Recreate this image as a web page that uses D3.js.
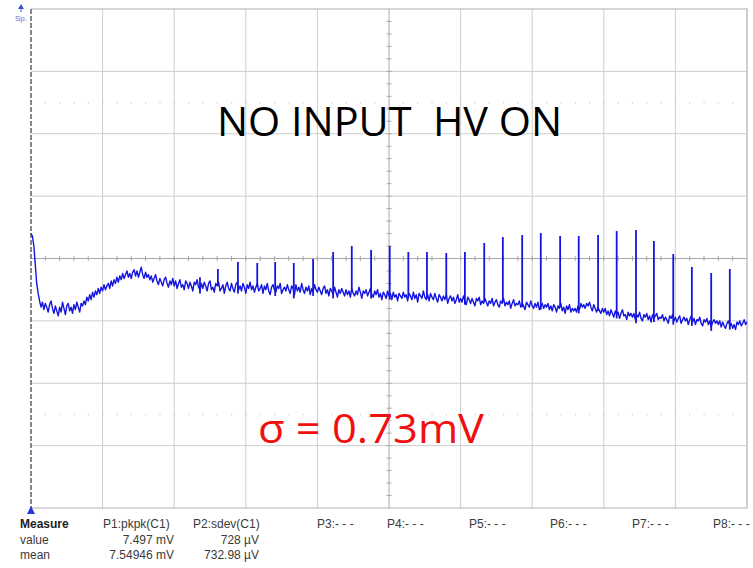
<!DOCTYPE html>
<html>
<head>
<meta charset="utf-8">
<script src="https://cdn.jsdelivr.net/npm/d3@7"></script>
<style>
  body { margin: 0; background: #fff; }
  svg { display: block; }
</style>
</head>
<body>
<div id="scope"></div>
<script>
// Channel 1 trace in mV, one sample every 0.02 div
const traceStep = 0.02;
const trace = [
    2.0, 1.8, 1.0, -0.5, -2.0, -2.8, -3.4, -3.9, -3.5, -4.1, -3.6, -3.9, -4.3, -3.7, -3.4, -4.0, -4.4, -3.8, -4.2, -4.6,
    -3.9, -4.3, -3.5, -4.0, -4.5, -3.8, -3.6, -4.2, -3.9, -4.4, -3.7, -4.1, -3.5, -3.9, -4.3, -3.6, -3.8, -3.4, -3.7, -3.1,
    -3.4, -2.9, -3.3, -2.7, -3.1, -2.6, -2.9, -2.4, -2.8, -2.3, -2.6, -2.1, -2.5, -2.2, -2.0, -2.4, -1.8, -2.2, -1.7, -2.0,
    -1.5, -1.9, -1.4, -1.7, -1.2, -1.6, -1.3, -1.0, -1.5, -1.2, -1.6, -1.1, -0.9, -1.4, -1.0, -1.5, -1.1, -0.7, -1.3, -1.6,
    -1.1, -1.5, -1.3, -1.7, -1.4, -1.9, -1.6, -1.3, -1.8, -2.1, -1.6, -1.9, -2.2, -1.7, -1.5, -2.0, -2.3, -1.8, -2.1, -1.6,
    -2.2, -1.8, -2.4, -2.0, -1.7, -2.3, -2.1, -2.5, -1.8, -2.0, -2.4, -1.9, -2.2, -2.6, -1.9, -2.1, -1.7, -2.3, -2.5, -2.0,
    -2.4, -1.9, -2.2, -2.6, -2.0, -1.8, -2.5, -2.3, -2.7, -2.0, -2.2, -1.9, -2.6, -2.4, -2.1, -2.8, -2.2, -1.9, -2.4, -2.6,
    -2.0, -2.4, -2.7, -2.1, -1.9, -2.5, -2.2, -2.6, -2.0, -2.3, -2.8, -2.1, -2.4, -1.9, -2.5, -2.2, -2.7, -2.3, -2.0, -2.6,
    -2.4, -2.1, -2.8, -2.2, -2.5, -2.0, -2.6, -2.9, -2.3, -2.1, -2.5, -2.7, -2.2, -2.4, -2.0, -2.8, -2.5, -2.3, -2.6, -2.1,
    -2.5, -2.8, -2.2, -2.4, -2.9, -2.1, -2.6, -2.3, -2.7, -2.0, -2.5, -2.8, -2.3, -2.6, -2.2, -2.9, -2.4, -2.7, -2.1, -2.5,
    -2.7, -2.3, -2.6, -2.9, -2.4, -2.2, -2.8, -2.5, -3.0, -2.4, -2.6, -2.9, -2.3, -2.7, -3.1, -2.5, -2.8, -2.4, -2.7, -3.0,
    -2.5, -2.9, -2.6, -3.1, -2.4, -2.8, -3.0, -2.6, -2.9, -2.3, -2.7, -3.2, -2.6, -2.8, -2.5, -3.0, -2.7, -2.4, -2.9, -3.1,
    -2.6, -2.9, -2.5, -3.1, -2.8, -3.3, -2.7, -2.9, -3.2, -2.6, -3.0, -2.8, -3.3, -2.7, -3.1, -2.9, -3.4, -2.8, -3.0, -3.2,
    -2.7, -3.1, -2.9, -3.4, -2.8, -3.0, -3.3, -2.7, -3.2, -2.9, -3.5, -2.8, -3.0, -3.2, -2.6, -3.1, -3.3, -2.9, -3.4, -2.8,
    -3.1, -3.3, -2.8, -3.2, -3.5, -2.9, -3.1, -3.4, -3.0, -3.3, -2.9, -3.6, -3.2, -3.0, -3.4, -3.1, -3.6, -3.3, -2.9, -3.5,
    -3.2, -3.5, -3.0, -3.4, -3.7, -3.1, -3.3, -3.6, -3.2, -3.5, -3.8, -3.2, -3.4, -3.1, -3.7, -3.4, -3.6, -3.2, -3.5, -3.8,
    -3.4, -3.6, -3.2, -3.8, -3.5, -3.3, -3.7, -3.9, -3.4, -3.6, -3.2, -3.8, -3.5, -3.7, -3.4, -4.0, -3.6, -3.3, -3.8, -3.6,
    -3.7, -3.4, -3.9, -3.6, -3.8, -4.1, -3.5, -3.7, -3.9, -3.4, -3.8, -4.0, -3.6, -3.9, -3.5, -4.1, -3.8, -3.6, -4.0, -3.7,
    -3.9, -3.6, -4.1, -3.8, -4.2, -3.7, -3.9, -4.3, -3.8, -4.0, -3.6, -4.2, -3.9, -4.4, -3.8, -4.1, -3.7, -4.3, -4.0, -4.2,
    -4.0, -4.3, -3.8, -4.1, -3.6, -3.9, -3.7, -4.0, -3.6, -3.8, -3.5, -3.9, -4.2, -3.7, -4.0, -4.3, -3.9, -4.2, -4.4, -4.0,
    -4.3, -4.0, -4.5, -4.2, -4.6, -4.1, -4.4, -4.7, -4.2, -4.5, -4.3, -4.8, -4.4, -4.1, -4.6, -4.5, -4.9, -4.3, -4.6, -4.4,
    -4.7, -4.4, -4.9, -4.5, -4.7, -4.3, -4.8, -5.0, -4.5, -4.7, -4.4, -4.9, -4.6, -5.1, -4.5, -4.8, -4.6, -4.4, -4.9, -4.7,
    -4.8, -4.5, -5.0, -4.7, -4.9, -5.2, -4.6, -4.8, -4.5, -5.0, -4.7, -5.1, -4.8, -4.6, -5.2, -4.9, -4.7, -5.0, -4.8, -5.3,
    -4.9, -4.6, -5.1, -4.8, -5.3, -4.9, -5.0, -4.7, -5.2, -5.4, -4.9, -5.1, -4.8, -5.3, -5.0, -5.5, -5.1, -4.9, -5.2, -5.0,
    -5.3, -5.0, -5.5, -5.1, -5.4, -5.6, -5.2, -5.0, -5.4, -5.2, -5.6, -5.3, -5.7, -5.1, -5.3, -5.0, -5.4, -5.2, -4.9, -5.3,
    -5.1
];

// interference spikes: position (div) and peak (mV)
const spikeTimes = [2.36, 2.61, 2.89, 3.16, 3.41, 3.67, 3.94, 4.22, 4.48, 4.75,
    5.01, 5.27, 5.53, 5.80, 6.06, 6.33, 6.59, 6.86, 7.12, 7.39,
    7.65, 7.92, 8.18, 8.45, 8.70, 8.97, 9.23, 9.50, 9.76];
const spikePeaks = [-1.5, -0.84, -0.28, -0.36, -0.28, -0.36, -0.04, 0.52, 1.00, 0.68,
    1.00, 0.52, 0.52, 0.44, 0.52, 1.24, 1.72, 1.88, 2.04, 1.80,
    1.80, 1.88, 2.20, 2.28, 1.40, 0.36, -0.68, -1.16, -0.84];

const titleText = "NO INPUT  HV ON";
const sigmaText = "σ = 0.73mV";

const measureHeads = ["P1:pkpk(C1)", "P2:sdev(C1)", "P3:- - -", "P4:- - -",
    "P5:- - -", "P6:- - -", "P7:- - -", "P8:- - -"];
const measureValues = ["7.497 mV", "728 µV"];
const measureMeans = ["7.54946 mV", "732.98 µV"];

const W = 753, H = 568;
const plot = { left: 31, right: 747, top: 9, bottom: 508 };

const svg = d3.select("#scope")
    .append("svg")
    .attr("width", W)
    .attr("height", H);

const x = d3.scaleLinear().domain([0, 10]).range([plot.left, plot.right]);
const y = d3.scaleLinear().domain([-20, 20]).range([plot.bottom, plot.top]);

// Grid
const grid = svg.append("g");
grid.selectAll(".vgrid")
    .data(d3.range(1, 10))
    .enter()
    .append("line")
    .attr("x1", d => x(d)).attr("x2", d => x(d))
    .attr("y1", plot.top).attr("y2", plot.bottom)
    .attr("stroke", d => d === 5 ? "#a8a8a8" : "#cdcdcd")
    .attr("stroke-width", 1);

grid.selectAll(".hgrid")
    .data(d3.range(-15, 20, 5))
    .enter()
    .append("line")
    .attr("x1", plot.left).attr("x2", plot.right)
    .attr("y1", d => y(d)).attr("y2", d => y(d))
    .attr("stroke", d => d === 0 ? "#a8a8a8" : "#cdcdcd")
    .attr("stroke-width", 1);

// faint dotted rows at +/- 2.5 div
grid.selectAll(".dots")
    .data(d3.cross(d3.range(0.2, 10, 0.2), [-12.5, 12.5]))
    .enter()
    .append("rect")
    .attr("x", d => x(d[0]) - 0.5)
    .attr("y", d => y(d[1]) - 0.5)
    .attr("width", 1.2).attr("height", 1.2)
    .attr("fill", "#c4c4c4");

// minor ticks on the centre lines
grid.selectAll(".xtick")
    .data(d3.range(0.2, 10, 0.2))
    .enter()
    .append("line")
    .attr("x1", d => x(d)).attr("x2", d => x(d))
    .attr("y1", y(0) - 2.5).attr("y2", y(0) + 2.5)
    .attr("stroke", "#a8a8a8");

grid.selectAll(".ytick")
    .data(d3.range(-19, 20, 1))
    .enter()
    .append("line")
    .attr("x1", x(5) - 2.5).attr("x2", x(5) + 2.5)
    .attr("y1", d => y(d)).attr("y2", d => y(d))
    .attr("stroke", "#a8a8a8");

// frame
svg.append("path")
    .attr("d", `M${plot.left},${plot.top}H${plot.right}V${plot.bottom}H${plot.left}`)
    .attr("fill", "none")
    .attr("stroke", "#b0b0b0")
    .attr("stroke-width", 1.2);

svg.append("line")
    .attr("x1", plot.left).attr("x2", plot.left)
    .attr("y1", plot.top).attr("y2", plot.bottom)
    .attr("stroke", "#6a6a6a")
    .attr("stroke-width", 1.6)
    .attr("stroke-dasharray", "5,2");

// Trace
const blue = "#1414e0";
const line = d3.line()
    .x((d, i) => x(i * traceStep))
    .y(d => y(d));

svg.append("path")
    .datum(trace)
    .attr("fill", "none")
    .attr("stroke", blue)
    .attr("stroke-width", 1.4)
    .attr("stroke-linejoin", "round")
    .attr("d", line);

// Spikes rise from the local trace level
svg.selectAll(".spike")
    .data(spikeTimes)
    .enter()
    .append("line")
    .attr("class", "spike")
    .attr("x1", d => x(d)).attr("x2", d => x(d))
    .attr("y1", d => y(trace[Math.round(d / traceStep)] - 0.3))
    .attr("y2", (d, i) => y(spikePeaks[i]))
    .attr("stroke", blue)
    .attr("stroke-width", 1.8);

// channel markers
svg.append("path")
    .attr("d", `M${plot.left - 4},${plot.bottom + 6}L${plot.left},${plot.bottom - 2}L${plot.left + 4},${plot.bottom + 6}Z`)
    .attr("fill", "#2a35d8");

svg.append("path")
    .attr("d", "M18,9L21,4L24,9Z")
    .attr("fill", "#3a55d8");
svg.append("line")
    .attr("x1", 21).attr("x2", 21).attr("y1", 8).attr("y2", 12)
    .attr("stroke", "#3a55d8");
svg.append("text")
    .attr("x", 15).attr("y", 21)
    .style("font-family", "Liberation Sans, Arial, sans-serif")
    .style("font-size", "8px")
    .style("fill", "#5870d8")
    .text("Sp.");

// Annotations
svg.append("text")
    .attr("x", 217).attr("y", 136)
    .attr("textLength", 345)
    .attr("lengthAdjust", "spacingAndGlyphs")
    .style("white-space", "pre")
    .style("font-family", "Open Sans, Liberation Sans, sans-serif")
    .style("font-size", "40px")
    .style("fill", "#000")
    .text(titleText);

svg.append("text")
    .attr("x", 258).attr("y", 443)
    .attr("textLength", 226)
    .attr("lengthAdjust", "spacingAndGlyphs")
    .style("font-family", "Open Sans, Liberation Sans, sans-serif")
    .style("font-size", "40px")
    .style("fill", "#f01010")
    .text(sigmaText);

// Measurement table
const table = svg.append("g")
    .style("font-family", "Liberation Sans, Arial, sans-serif")
    .style("font-size", "12px")
    .style("fill", "#3a3a3a");

table.append("text").attr("x", 20).attr("y", 528)
    .style("font-weight", "bold").style("fill", "#222").text("Measure");
table.append("text").attr("x", 20).attr("y", 544).text("value");
table.append("text").attr("x", 20).attr("y", 559).text("mean");

const headX = [103, 193, 317, 387, 469, 550, 632, 713];
table.selectAll(".head")
    .data(measureHeads)
    .enter()
    .append("text")
    .attr("x", (d, i) => headX[i])
    .attr("y", 528)
    .text(d => d);

const valueRight = [174, 259];
table.selectAll(".val")
    .data(measureValues)
    .enter()
    .append("text")
    .attr("x", (d, i) => valueRight[i])
    .attr("y", 544)
    .attr("text-anchor", "end")
    .text(d => d);

table.selectAll(".mean")
    .data(measureMeans)
    .enter()
    .append("text")
    .attr("x", (d, i) => valueRight[i])
    .attr("y", 559)
    .attr("text-anchor", "end")
    .text(d => d);
</script>
</body>
</html>
